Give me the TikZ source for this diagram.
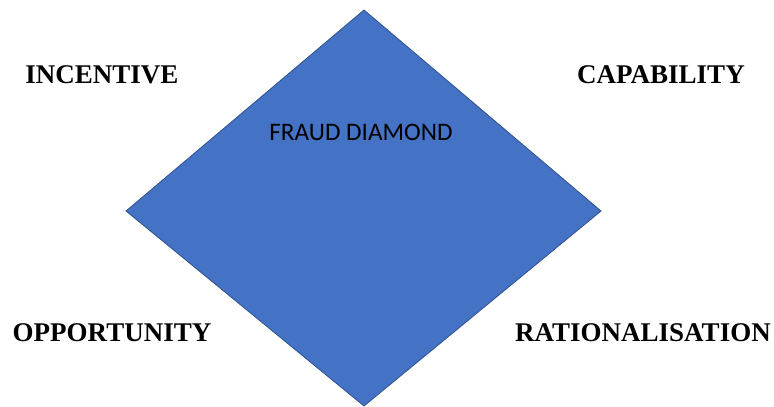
\documentclass[tikz,border=0pt]{standalone}
\usepackage{fontspec}
\setmainfont{Liberation Serif}
\newfontfamily\calib{Carlito}
\definecolor{diamondfill}{HTML}{4472C4}
\definecolor{diamondedge}{HTML}{2F528F}
\begin{document}
\begin{tikzpicture}[x=1pt,y=-1pt,
  cornerlabel/.style={inner sep=0pt, font=\fontsize{27}{30}\selectfont\bfseries},
  centrelabel/.style={inner sep=0pt, font=\calib\fontsize{25.2}{28}\selectfont}]
  \useasboundingbox (0,0) rectangle (774,407);
  % the diamond
  \coordinate (top) at (364,10);
  \coordinate (right) at (601,211);
  \coordinate (bottom) at (364,406);
  \coordinate (left) at (126,211);
  \filldraw[fill=diamondfill, draw=diamondedge, line width=0.8pt, line join=miter]
    (top) -- (right) -- (bottom) -- (left) -- cycle;
  \node[centrelabel] (title) at (361,132) {FRAUD DIAMOND};
  % the four elements
  \node[cornerlabel] (incentive) at (102,75) {INCENTIVE};
  \node[cornerlabel] (capability) at (661,75) {CAPABILITY};
  \node[cornerlabel] (opportunity) at (112,333) {OPPORTUNITY};
  \node[cornerlabel] (rationalisation) at (643,333) {RATIONALISATION};
\end{tikzpicture}
\end{document}
